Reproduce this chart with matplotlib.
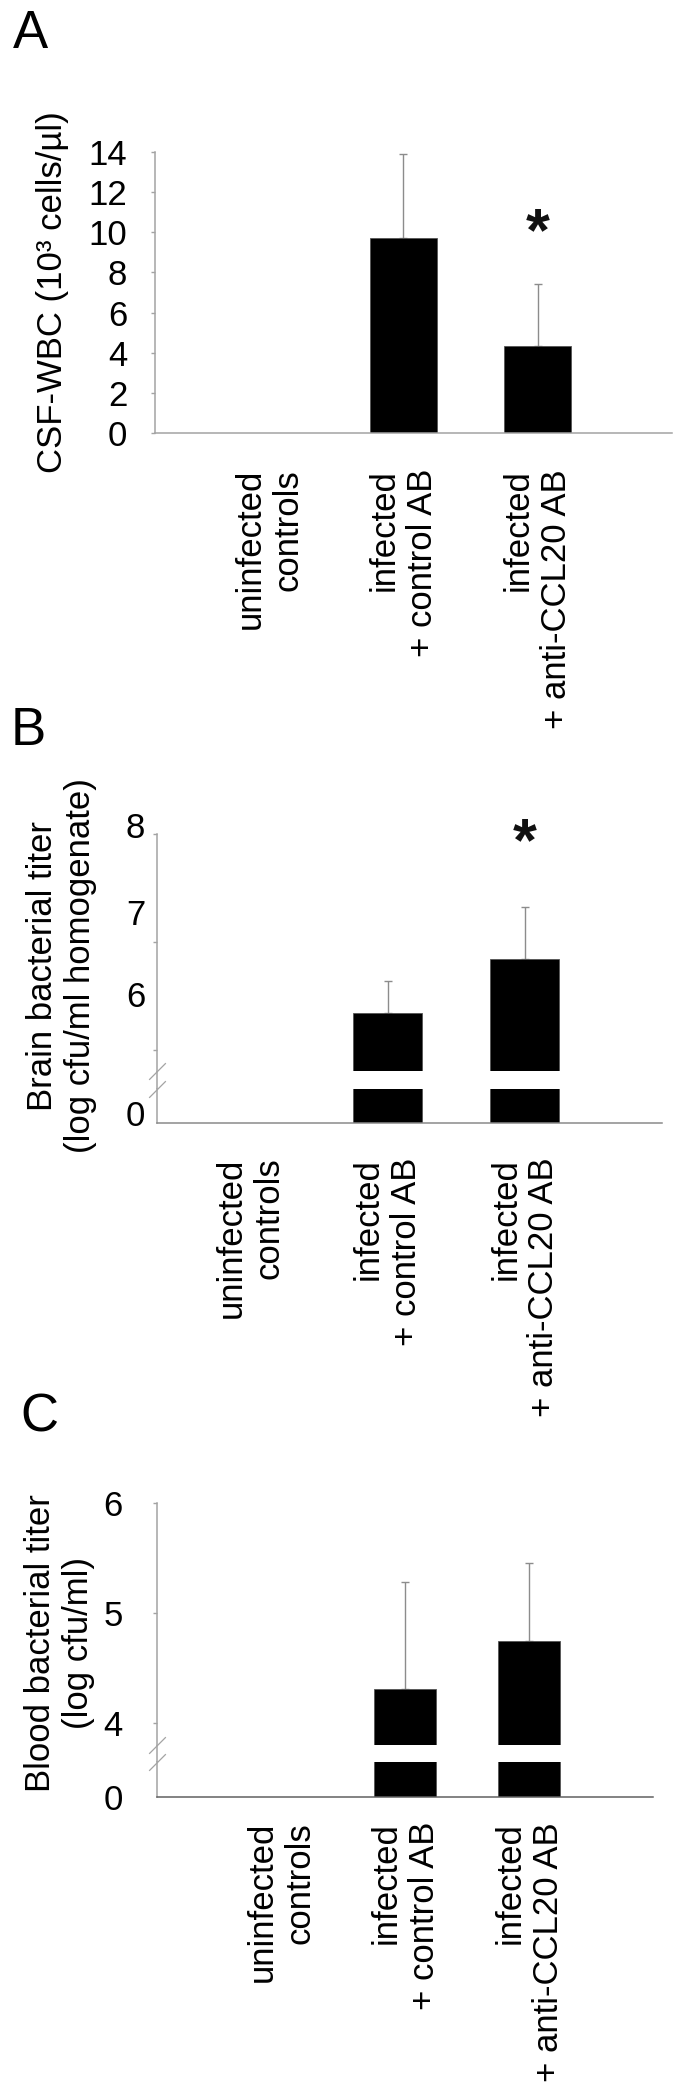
import matplotlib
matplotlib.use("Agg")
import matplotlib.pyplot as plt
import numpy as np
from matplotlib.ticker import FixedLocator, FixedFormatter, NullFormatter

plt.rcParams['font.family'] = ['Liberation Sans', 'DejaVu Sans']

# ---------------- data ----------------
categories = ["uninfected\ncontrols", "infected\n+ control AB", "infected\n+ anti-CCL20 AB"]

wbc_mean = [0.0, 9.72, 4.33]          # CSF-WBC, 10^3 cells/µl
wbc_err = [0.0, 4.17, 3.09]
wbc_ticks = [0, 2, 4, 6, 8, 10, 12, 14]
wbc_sig = [False, False, True]

brain_mean = [0.0, 6.34, 6.84]        # log cfu/ml homogenate
brain_err = [0.0, 0.30, 0.48]
brain_ticks = [6, 7, 8]
brain_tick_labels = ["6", "7", "8"]
brain_sig = [False, False, True]

blood_mean = [0.0, 4.31, 4.75]        # log cfu/ml
blood_err = [0.0, 0.97, 0.70]
blood_ticks = [4, 5, 6]

# ---------------- layout ----------------
W, H = 684, 2097
DPI = 100
FS = 25
AX_GRAY = '#a3a3a3'
ERR_GRAY = '#8c8c8c'

fig = plt.figure(figsize=(W / DPI, H / DPI), dpi=DPI)


def rect(left, top, right, bottom):
    return [left / W, 1 - bottom / H, (right - left) / W, (bottom - top) / H]


x = np.arange(len(categories))


def style_axis(ax, bottom_color=AX_GRAY, show_bottom=True):
    for s in ['top', 'right']:
        ax.spines[s].set_visible(False)
    ax.spines['left'].set_color(AX_GRAY)
    ax.spines['left'].set_linewidth(1.1)
    if show_bottom:
        ax.spines['bottom'].set_color(bottom_color)
        ax.spines['bottom'].set_linewidth(1.1)
    else:
        ax.spines['bottom'].set_visible(False)
    ax.tick_params(axis='y', which='major', color=AX_GRAY, length=3, width=1,
                   direction='out', labelsize=FS)
    ax.set_facecolor('none')


def draw_bars(ax, mean, err, with_err=True):
    ax.bar(x, mean, width=0.5, color='black', edgecolor='#555555', linewidth=0.6, zorder=2)
    if with_err:
        m = np.array(mean)
        e = np.array(err)
        sel = e > 0
        ax.errorbar(x[sel], m[sel], yerr=[np.zeros(sel.sum()), e[sel]], fmt='none',
                    ecolor=ERR_GRAY, elinewidth=1.0, capsize=3, capthick=1.0, zorder=1)


def set_xlabels(ax, pad):
    ax.set_xticks(x)
    ax.set_xticklabels(categories)
    ax.tick_params(axis='x', length=0, pad=pad, labelsize=FS)
    for lbl in ax.get_xticklabels():
        lbl.set_rotation(90)
        lbl.set_multialignment('right')
        lbl.set_linespacing(1.2)


def add_break(ax_top, ax_bot, gap_px, bot_h_px):
    # continue the y spine through the gap
    ax_bot.plot([0, 0], [1, 1 + gap_px / bot_h_px], transform=ax_bot.transAxes,
                color=AX_GRAY, lw=1.1, clip_on=False, solid_capstyle='butt')
    for a, yy in ((ax_top, 0), (ax_bot, 1)):
        a.plot([0], [yy], transform=a.transAxes, marker=[(-1, -1), (1, 1)],
               markersize=12, mew=0.9, color=AX_GRAY, clip_on=False)


def add_star(ax, sig, ypos):
    for xi, s in zip(x, sig):
        if s:
            ax.text(xi, ypos, '*', ha='center', va='center', fontsize=44,
                    fontweight='bold', color='#111111', clip_on=False)


# ---------------- Panel A ----------------
axA = fig.add_axes(rect(155, 152, 672, 433))
style_axis(axA)
draw_bars(axA, wbc_mean, wbc_err)
axA.set_xlim(-0.85, 3.0)
axA.set_ylim(0, 14)
axA.set_yticks(wbc_ticks)
axA.tick_params(axis='y', pad=17)
set_xlabels(axA, 26)
add_star(axA, wbc_sig, 9.9)
axA.set_ylabel("CSF-WBC (10³ cells/µl)", fontsize=FS)
axA.yaxis.set_label_coords(-0.166, 0.5)

# ---------------- Panel B (broken axis) ----------------
B_unit = 108.0                 # px per log unit
B_top_val = 8.12               # a little headroom so the raised "8" label shows
B_gap_top, B_gap_bot, B_zero = 1071, 1089, 1123
B_top = 834 - (B_top_val - 8) * B_unit
axB = fig.add_axes(rect(157, B_top, 662, B_gap_top))
axB0 = fig.add_axes(rect(157, B_gap_bot, 662, B_zero))
style_axis(axB, show_bottom=False)
style_axis(axB0, bottom_color='#8a8a8a')
draw_bars(axB, brain_mean, brain_err)
draw_bars(axB0, brain_mean, brain_err, with_err=False)
for a in (axB, axB0):
    a.set_xlim(-0.68, 3.0)
B_low = 6 - (B_gap_top - 1050) / B_unit
axB.set_ylim(B_low, B_top_val)
axB.spines['left'].set_bounds(B_low, max(brain_ticks))
axB0.set_ylim(0, 1)
axB.set_xticks([])
axB.set_yticks(brain_ticks)
axB.yaxis.set_major_formatter(NullFormatter())
# printed labels sit slightly above their tick marks in the original
axB.yaxis.set_minor_locator(FixedLocator([6.52, 7.28, 8.08]))
axB.yaxis.set_minor_formatter(FixedFormatter(brain_tick_labels))
axB.tick_params(axis='y', which='minor', length=0, pad=8.5, labelsize=FS)
axB0.set_yticks([])
axB0.yaxis.set_minor_locator(FixedLocator([0.3]))
axB0.yaxis.set_minor_formatter(FixedFormatter(["0"]))
axB0.tick_params(axis='y', which='minor', length=0, pad=8.5, labelsize=FS)
set_xlabels(axB0, 25)
add_break(axB, axB0, B_gap_bot - B_gap_top, B_zero - B_gap_bot)
add_star(axB, brain_sig, 7.9)
axB.set_ylabel("Brain bacterial titer\n(log cfu/ml homogenate)", fontsize=FS, linespacing=1.2)
axB.yaxis.set_label_coords(-0.119, 0.42)

# ---------------- Panel C (broken axis) ----------------
C_top, C_gap_top, C_gap_bot, C_zero = 1503, 1745, 1762, 1797
axC = fig.add_axes(rect(157, C_top, 653, C_gap_top))
axC0 = fig.add_axes(rect(157, C_gap_bot, 653, C_zero))
style_axis(axC, show_bottom=False)
style_axis(axC0, bottom_color='#606060')
draw_bars(axC, blood_mean, blood_err)
draw_bars(axC0, blood_mean, blood_err, with_err=False)
for a in (axC, axC0):
    a.set_xlim(-1.0, 3.0)
axC.set_ylim(4 - (C_gap_top - 1723) / 110.0, 6)
axC0.set_ylim(0, 1)
axC.set_xticks([])
axC.set_yticks(blood_ticks)
axC.tick_params(axis='y', pad=21.5)
axC0.set_yticks([0])
axC0.tick_params(axis='y', length=0, pad=24.4)
set_xlabels(axC0, 18)
add_break(axC, axC0, C_gap_bot - C_gap_top, C_zero - C_gap_bot)
axC.set_ylabel("Blood bacterial titer\n(log cfu/ml)", fontsize=FS, linespacing=1.2)
axC.yaxis.set_label_coords(-0.125, 0.42)

# ---------------- panel letters ----------------
fig.text(13 / W, 1 - 48 / H, "A", fontsize=38, ha='left', va='baseline')
fig.text(11 / W, 1 - 745 / H, "B", fontsize=38, ha='left', va='baseline')
fig.text(20 / W, 1 - 1431 / H, "C", fontsize=38, ha='left', va='baseline')

fig.savefig("out.png", dpi=DPI)
